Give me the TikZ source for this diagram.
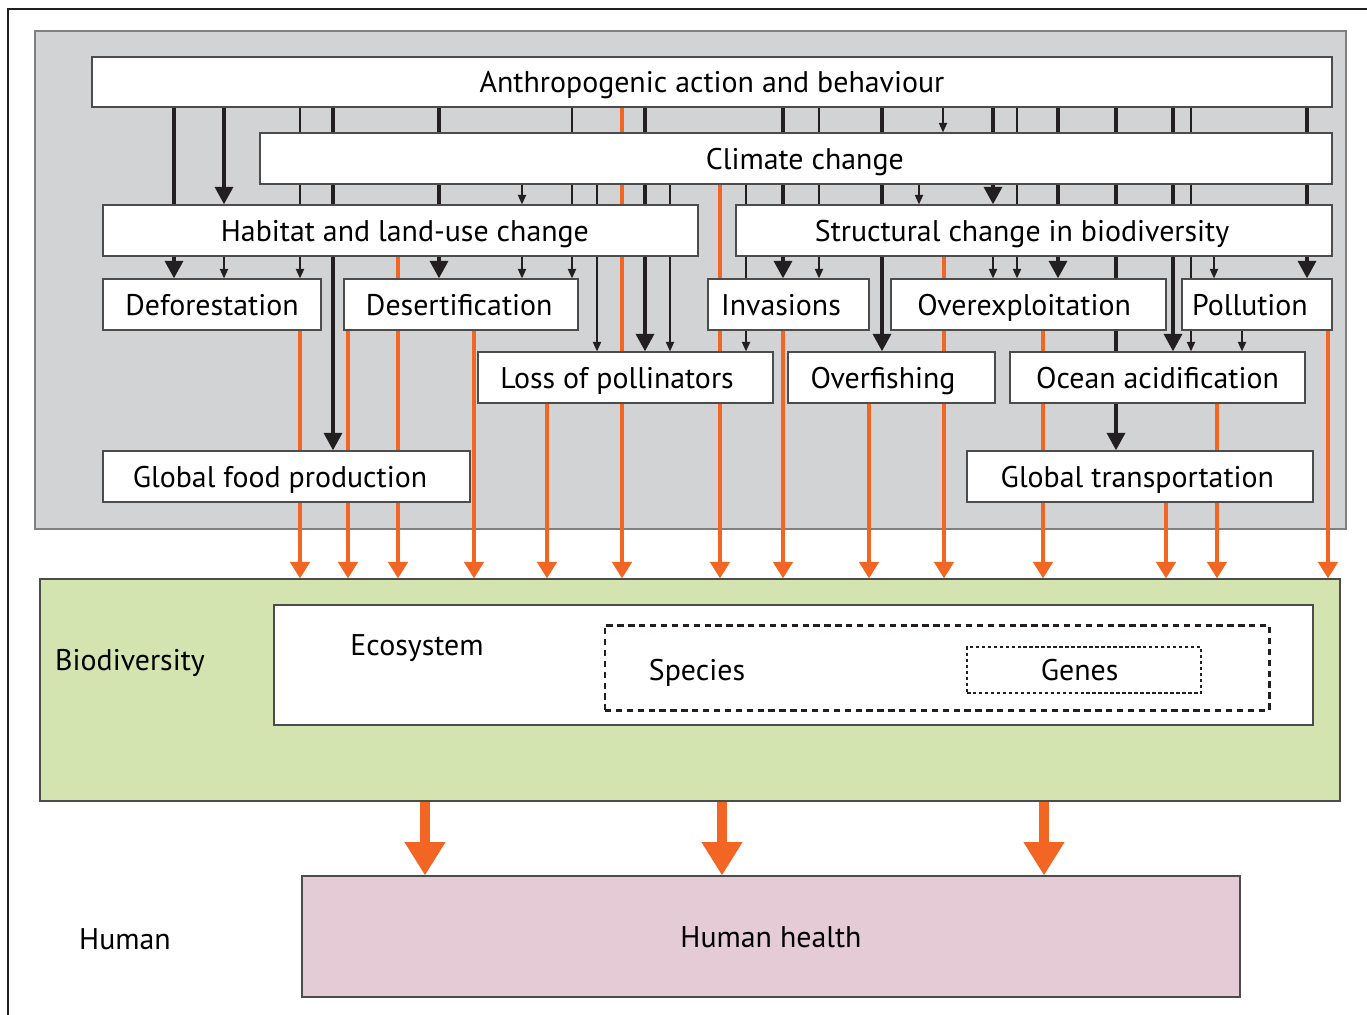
\documentclass[tikz,border=0pt]{standalone}
\usepackage{fontspec}
\setmainfont{PT Sans}
\usetikzlibrary{arrows.meta}
\definecolor{panel}{RGB}{209,211,212}
\definecolor{ora}{RGB}{242,101,34}
\definecolor{leaf}{RGB}{211,228,176}
\definecolor{rose}{RGB}{228,203,214}
\definecolor{ink}{RGB}{35,31,32}
\pgfdeclarelayer{back}
\pgfdeclarelayer{links}
\pgfsetlayers{back,links,main}

\begin{document}
\begin{tikzpicture}[x=0.02cm,y=-0.02cm,font=\fontsize{17}{20}\selectfont]
\tikzset{box/.style 2 args={draw=black!70,fill=white,line width=0.6pt,minimum width=#1*0.02cm,minimum height=#2*0.02cm,
        inner sep=0pt,text height=14pt,text depth=1.5pt},
    heavy/.style={draw=ink,line width=2.8pt,-{Triangle[width=10pt,length=10pt]}},
    fine/.style={draw=ink,line width=1.1pt,-{Triangle[width=4.6pt,length=5.5pt]}},
    hot/.style={draw=ora,line width=2.3pt,-{Triangle[width=11pt,length=9.5pt]}},
    flow/.style={draw=ora,line width=5.7pt,-{Triangle[width=22pt,length=19pt]}},
    plain/.style={inner sep=0pt,text height=14pt,text depth=1.5pt}}
\useasboundingbox (0,0) rectangle (1367,1015);
\draw[ink,line width=1.2pt] (8,1015) -- (8,9) -- (1367,9);
\begin{pgfonlayer}{back}
\filldraw[fill=panel,draw=black!50,line width=0.6pt] (35,31) rectangle (1346,529);
\end{pgfonlayer}
\node[box={1240}{50}] (anthro) at (712,82) {Anthropogenic action and behaviour};
\node[box={1072}{51}] (climate) at (796,158.5) {\kern10pt Climate change};
\node[box={595}{51}] (habitat) at (400.5,230.5) {\kern5pt Habitat and land-use change};
\node[box={596}{51}] (struct) at (1034,230.5) {Structural change in biodiversity\kern13.6pt};
\node[box={218}{51}] (defo) at (212,304.5) {Deforestation};
\node[box={234}{51}] (desert) at (461,304.5) {Desertification\kern2pt};
\node[box={161}{51}] (inv) at (788.5,304.5) {Invasions\kern8.5pt};
\node[box={275}{51}] (overex) at (1028.5,304.5) {Overexploitation\kern5pt};
\node[box={150}{51}] (poll) at (1257,304.5) {Pollution\kern8pt};
\node[box={295}{51}] (lop) at (625.5,377.5) {Loss of pollinators\kern9.6pt};
\node[box={207}{51}] (overf) at (891.5,377.5) {Overfishing\kern9.6pt};
\node[box={295}{51}] (ocean) at (1157.5,377.5) {Ocean acidification};
\node[box={367}{51}] (gfp) at (286.5,476.5) {Global food production\kern7.4pt};
\node[box={346}{51}] (gt) at (1140,476.5) {Global transportation\kern3pt};
\node[box={1300}{222},fill=leaf] (bio) at (690,690) {};
\node[plain] (biolab) at (130,660) {Biodiversity};
\node[box={1039}{120}] (eco) at (793.5,665) {};
\node[plain] (ecolab) at (417,645) {Ecosystem};
\node[box={664}{85},draw=ink,line width=1.7pt,dash pattern=on 3.6pt off 2.6pt] (species) at (937,667.5) {};
\node[plain] (spclab) at (697,670) {Species};
\node[box={234}{46},draw=ink,line width=0.8pt,dash pattern=on 2pt off 1.4pt] (genes) at (1084,670) {Genes\kern5pt};
\node[box={938}{121},fill=rose] (hh) at (771,936.5) {Human health};
\node[plain] (humlab) at (125,939) {Human};
\begin{pgfonlayer}{links}
\foreach \x/\a/\b in {174/anthro/defo,224/anthro/habitat,333/anthro/gfp,439/anthro/desert,645/anthro/lop,
    783/anthro/inv,882/anthro/overf,993/anthro/struct,1058/anthro/overex,1116/anthro/gt,1173/anthro/ocean,1307/anthro/poll}
  \draw[heavy] (\x,0 |- \a.south) -- (\x,0 |- \b.north);
\foreach \x/\a/\b in {224/habitat/defo,300/anthro/defo,522/climate/habitat,522/habitat/desert,572/anthro/desert,
    597/climate/lop,670/climate/lop,746/climate/lop,819/anthro/inv,919/climate/struct,943/anthro/climate,
    993/struct/overex,1017/anthro/overex,1191/anthro/ocean,1214/struct/poll,1242/poll/ocean}
  \draw[fine] (\x,0 |- \a.south) -- (\x,0 |- \b.north);
\foreach \x/\a in {300/defo,348/desert,398/habitat,474/desert,547/lop,622/anthro,720/climate,
    783/inv,869/overf,944/struct,1043/overex,1166/gt,1217/ocean,1328/poll}
  \draw[hot] (\x,0 |- \a.south) -- (\x,0 |- bio.north);
\foreach \x in {425,722,1044}
  \draw[flow] (\x,0 |- bio.south) -- (\x,0 |- hh.north);
\end{pgfonlayer}
\end{tikzpicture}
\end{document}
